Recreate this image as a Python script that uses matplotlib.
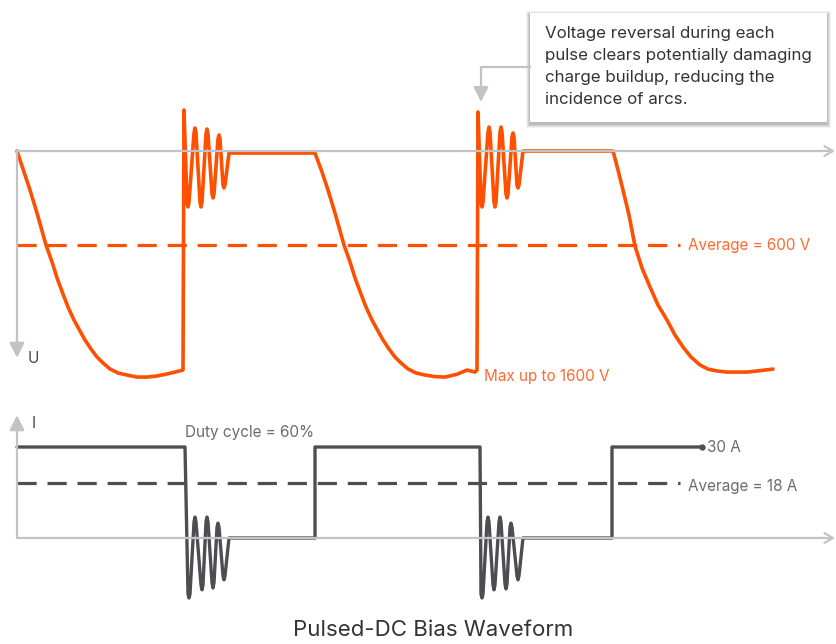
import numpy as np
import matplotlib
matplotlib.use("Agg")
import matplotlib.pyplot as plt
from matplotlib.patches import Rectangle

plt.rcParams['font.family'] = ['Inter', 'DejaVu Sans']

# ---- waveform key points (time in arbitrary units, U in volts, I in amps)
# pulse 1: decay, reversal spike + ringing, flat
t_u1 = [0, 7, 13, 20, 29, 35, 40, 46, 51, 57, 63, 68, 74, 80, 86, 93,
        101, 110, 120, 130, 140, 150, 158, 166,
        167, 170, 171, 172, 177, 178, 179, 183, 184, 185, 189, 190, 191,
        195, 196, 197, 201, 202, 203, 206, 207, 208, 212, 298]
u_v1 = [0, 134, 249, 396, 600, 708, 810, 913, 996, 1079, 1149, 1206, 1264,
        1315, 1353, 1391, 1417, 1430, 1443, 1443, 1436, 1423, 1411, 1398,
        -262, 326, 357, 326, -115, -147, -115, 326, 357, 326, -109, -140, -109,
        274, 300, 274, -77, -102, -77, 217, 236, 217, 13, 13]
# pulse 2
t_u2 = [305, 311, 318, 327, 333, 338, 344, 349, 355, 361, 366, 372, 378,
        384, 391, 399, 408, 418, 428, 440, 450, 458, 460,
        461, 464, 465, 466, 471, 472, 473, 477, 478, 479, 483, 484, 485,
        489, 490, 491, 495, 496, 497, 500, 501, 502, 506, 596]
u_v2 = [134, 249, 396, 600, 708, 810, 913, 996, 1079, 1149, 1206, 1264,
        1315, 1353, 1391, 1417, 1430, 1440, 1443, 1425, 1398, 1411, 1398,
        -249, 326, 357, 326, -121, -153, -121, 326, 357, 326, -121, -153, -121,
        274, 300, 274, -90, -115, -90, 217, 236, 217, 0, 0]
# final decay
t_u3 = [601, 606, 612, 618, 625, 633, 641, 650, 658, 666, 674, 683, 691,
        700, 710, 720, 730, 740, 748, 756]
u_v3 = [121, 249, 409, 607, 747, 868, 983, 1079, 1175, 1251, 1315, 1366,
        1392, 1404, 1411, 1411, 1411, 1404, 1398, 1392]

t_i = [0, 168, 171, 172, 173, 177, 178, 179, 184, 185, 186, 189, 190, 191,
       195, 196, 197, 200, 201, 202, 206, 207, 208, 212, 298, 298,
       463, 464, 465, 466, 470, 471, 472, 476, 477, 478, 482, 483, 484,
       488, 489, 490, 493, 494, 495, 500, 501, 502, 506, 595, 595, 685]
i_a = [30, 30, -18.5, -19.8, -18.5, 5.3, 6.9, 5.3, -15.5, -17.1, -15.5,
       5.3, 6.9, 5.3, -14.8, -16.5, -14.8, 3.6, 4.9, 3.6, -12.5, -13.8, -12.5,
       0, 0, 30,
       30, -18.5, -19.8, -18.5, 5.3, 6.9, 5.3, -15.5, -17.1, -15.5,
       5.3, 6.9, 5.3, -15.2, -16.8, -15.2, 3.6, 4.9, 3.6, -12.5, -13.8, -12.5,
       0, 0, 30, 30]

u_avg = 600
i_avg = 18
t_avg_end = 663
t_axis_end = 818

ORANGE = '#fe5000'
ORANGE_TXT = '#ff6a2e'
DARK = '#4d4d52'
AXIS = '#c3c3c7'
TXT = '#6b6b6b'

W, H = 836, 644
fig = plt.figure(figsize=(W / 100, H / 100), dpi=100)

# pixel overlay for annotations
ov = fig.add_axes([0, 0, 1, 1])
ov.set_xlim(0, W)
ov.set_ylim(H, 0)
ov.axis('off')

# voltage panel: 0 V at y=151 px, 600 V at y=245 px
ax_u = fig.add_axes([0, (H - 400) / H, 1, 310 / H])
ax_u.set_xlim(-17, W - 17)
ax_u.set_ylim(1589.3, -389.4)
ax_u.axis('off')

# current panel: 0 A at y=538 px, 30 A at y=447 px
ax_i = fig.add_axes([0, (H - 615) / H, 1, 215 / H])
ax_i.set_xlim(-17, W - 17)
ax_i.set_ylim(-25.4, 45.5)
ax_i.axis('off')

# axes lines
arr = dict(color=AXIS, lw=1.6, shrinkA=0, shrinkB=0)
ax_u.annotate('', xy=(t_axis_end, 0), xytext=(0, 0),
              arrowprops=dict(arrowstyle='->,head_length=0.6,head_width=0.35', **arr))
ax_u.annotate('', xy=(0, 1320), xytext=(0, 0),
              arrowprops=dict(arrowstyle='-|>,head_length=0.9,head_width=0.45', **arr))
ax_i.annotate('', xy=(t_axis_end, 0), xytext=(0, 0),
              arrowprops=dict(arrowstyle='->,head_length=0.6,head_width=0.35', **arr))
ax_i.annotate('', xy=(0, 40.5), xytext=(0, 0),
              arrowprops=dict(arrowstyle='-|>,head_length=0.9,head_width=0.45', **arr))

# averages
ax_u.plot([0, t_avg_end], [u_avg, u_avg], color=ORANGE, lw=2.3,
          dashes=(6, 3.4), dash_capstyle='butt')
ax_i.plot([0, t_avg_end], [i_avg, i_avg], color=DARK, lw=2.3,
          dashes=(6, 3.4), dash_capstyle='butt')

# waveforms
ax_u.plot(t_u1 + t_u2 + t_u3, u_v1 + u_v2 + u_v3, color=ORANGE, lw=2.6,
          solid_joinstyle='round', solid_capstyle='round')
ax_i.plot(t_i, i_a, color=DARK, lw=2.4, solid_joinstyle='round',
          solid_capstyle='round')
ax_i.plot([t_i[-1]], [i_a[-1]], 'o', color=DARK, ms=3.5)

# labels
fs = 11
ov.text(688, 245, 'Average = 600 V', color=ORANGE_TXT, fontsize=fs, va='center')
ov.text(484, 376, 'Max up to 1600 V', color=ORANGE_TXT, fontsize=fs, va='center')
ov.text(28, 358, 'U', color='#444444', fontsize=fs, va='center')
ov.text(32, 423, 'I', color='#444444', fontsize=fs, va='center')
ov.text(185, 432, 'Duty cycle = 60%', color=TXT, fontsize=fs, va='center')
ov.text(707, 447, '30 A', color=TXT, fontsize=fs, va='center')
ov.text(688, 486, 'Average = 18 A', color=TXT, fontsize=fs, va='center')
ov.text(433, 630, 'Pulsed-DC Bias Waveform', color='#333333', fontsize=16,
        ha='center', va='center')

# callout box with soft shadow
bx, by, bw, bh = 530, 13, 297, 109
for k, a in enumerate([0.05, 0.06, 0.08, 0.10]):
    g = 4 - k
    ov.add_patch(Rectangle((bx - g, by - g + 2), bw + 2 * g, bh + 2 * g,
                           facecolor='black', edgecolor='none', alpha=a))
ov.add_patch(Rectangle((bx, by), bw, bh, facecolor='white', edgecolor='none'))
note = ['Voltage reversal during each',
        'pulse clears potentially damaging',
        'charge buildup, reducing the',
        'incidence of arcs.']
for k, line in enumerate(note):
    ov.text(545, 33 + 22 * k, line, color='#333333', fontsize=12.2, va='center')

ov.plot([bx, 481, 481], [67, 67, 90], color=AXIS, lw=1.6)
ov.annotate('', xy=(481, 102), xytext=(481, 88),
            arrowprops=dict(arrowstyle='-|>,head_length=0.9,head_width=0.45',
                            color=AXIS, lw=1.6, shrinkA=0, shrinkB=0))

fig.savefig('out.png', dpi=100)
